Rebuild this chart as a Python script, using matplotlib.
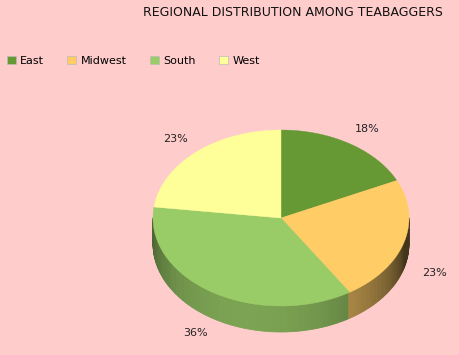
import numpy as np
import matplotlib
matplotlib.use("Agg")
import matplotlib.pyplot as plt
from matplotlib.patches import Polygon, Patch
from matplotlib.collections import PolyCollection
from matplotlib.colors import to_rgb

title = "REGIONAL DISTRIBUTION AMONG TEABAGGERS"
regions = ["East", "Midwest", "South", "West"]
shares = [18, 23, 36, 23]
colors = ["#669933", "#FFCC66", "#99CC66", "#FFFF99"]
bg = "#FFCCCC"

# pie geometry (pixels, y down)
cx, cy = 281, 218
rx, ry = 128, 88
depth = 26

fig = plt.figure(figsize=(4.6, 3.55), dpi=100, facecolor=bg)
ax = fig.add_axes([0, 0, 1, 1])
ax.set_xlim(0, 460)
ax.set_ylim(355, 0)
ax.axis('off')
ax.set_facecolor(bg)

fr = np.array(shares) / sum(shares)
ends = 90 - 360 * np.cumsum(fr)
starts = np.concatenate([[90], ends[:-1]])

def pt(t, dy=0):
    r = np.radians(t)
    return cx + rx * np.cos(r), cy - ry * np.sin(r) + dy

# side wall, shaded (lightest a bit left of front)
quads, qcols = [], []
for t0 in np.arange(180, 360, 1.0):
    t1 = t0 + 1
    tm = (t0 + 0.5)
    a = (90 - tm) % 360
    idx = np.searchsorted(np.cumsum(fr) * 360, a)
    idx = min(idx, len(colors) - 1)
    f = 0.26 + 0.54 * max(np.cos(np.radians(tm - 255)), 0) ** 0.8
    c = np.array(to_rgb(colors[idx])) * f
    quads.append([pt(t0), pt(t1), pt(t1, depth), pt(t0, depth)])
    qcols.append(c)
ax.add_collection(PolyCollection(quads, facecolors=qcols, edgecolors=qcols, linewidths=0.5))

# top face
for s, e, c in zip(starts, ends, colors):
    ts = np.linspace(s, e, 100)
    verts = [(cx, cy)] + [pt(t) for t in ts]
    ax.add_patch(Polygon(verts, closed=True, facecolor=c, edgecolor=c, linewidth=0.3))

# labels
for s, e, v in zip(starts, ends, shares):
    m = np.radians((s + e) / 2)
    lx = cx + 160 * np.cos(m)
    ly = cy - 105 * np.sin(m)
    if np.sin(m) < 0:
        ly += depth
    ax.text(lx, ly, f"{v}%", ha='center', va='center', fontsize=8, color='#222222')

ax.text(443, 12, title, ha='right', va='center', fontsize=9, color='#111111')

handles = [Patch(facecolor=c, edgecolor='#bbbbbb', linewidth=0.5) for c in colors]
ax.legend(handles, regions, loc='upper left', bbox_to_anchor=(0.005, 0.855), ncol=4,
          frameon=False, fontsize=8, handlelength=0.8, handleheight=0.8,
          handletextpad=0.4, columnspacing=2.1, borderaxespad=0)

fig.savefig("out.png", dpi=100, facecolor=bg)
